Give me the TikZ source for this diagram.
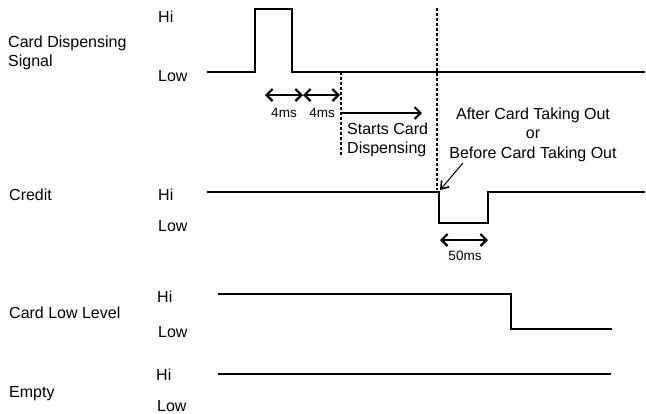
\documentclass[tikz,border=0pt]{standalone}
\usepackage{fontspec}
\setmainfont{Liberation Sans}
\usetikzlibrary{arrows.meta}
\begin{document}
\begin{tikzpicture}[x=1pt,y=-1pt,
  lbl/.style={anchor=base west,inner sep=0pt,font=\fontsize{16}{19}\selectfont},
  clbl/.style={anchor=base,inner sep=0pt,font=\fontsize{16}{19}\selectfont},
  small/.style={anchor=base,inner sep=0pt,font=\fontsize{13.5}{16}\selectfont},
  wave/.style={line width=1.8pt,line join=miter},
  dimarr/.style={line width=1.2pt,{Straight Barb[length=6pt,width=12pt,line width=2.2pt]}-{Straight Barb[length=6pt,width=12pt,line width=2.2pt]}},
  onearr/.style={line width=1.2pt,-{Straight Barb[length=6pt,width=12pt,line width=2pt]}},
  thinarr/.style={line width=1pt,-{Straight Barb[length=7pt,width=10pt,line width=1.6pt]}},
  dashline/.style={line width=1.4pt,dash pattern=on 3pt off 2pt}]
\useasboundingbox (0,0) rectangle (646,413);
% labels
\node[lbl] (l1a) at (8,47) {Card Dispensing};
\node[lbl] (l1b) at (8,66) {Signal};
\node[lbl] (h1) at (158,22) {Hi};
\node[lbl] (lo1) at (158,81) {Low};
\node[lbl] (l2) at (9,200) {Credit};
\node[lbl] (h2) at (158,200) {Hi};
\node[lbl] (lo2) at (158,231) {Low};
\node[lbl] (l3) at (9,318) {Card Low Level};
\node[lbl] (h3) at (157,302) {Hi};
\node[lbl] (lo3) at (158,337) {Low};
\node[lbl] (l4) at (9,397) {Empty};
\node[lbl] (h4) at (156,380) {Hi};
\node[lbl] (lo4) at (157,411) {Low};
% waveforms
\draw[wave] (207,72) -- (255,72) -- (255,9) -- (292,9) -- (292,72) -- (645,72);
\draw[wave] (207,192) -- (439,192) -- (439,223) -- (488,223) -- (488,192) -- (645,192);
\draw[wave] (218,294) -- (511,294) -- (511,329) -- (612,329);
\draw[wave] (218,374) -- (611,374);
% dashed markers
\coordinate (d1t) at (341,72);
\coordinate (d1b) at (341,157);
\draw[dashline] (d1t) -- (d1b);
\coordinate (d2t) at (437,8);
\coordinate (d2b) at (437,190);
\draw[dashline] (d2t) -- (d2b);
% 4ms arrows
\coordinate (a0) at (265,95);
\coordinate (a1) at (303,95);
\coordinate (a2) at (340,95);
\draw[dimarr] (a0) -- (a1);
\draw[dimarr] (a1) -- (a2);
\node[small] (t4a) at (284,117) {4ms};
\node[small] (t4b) at (322,117) {4ms};
% starts arrow
\coordinate (sa0) at (341,113);
\coordinate (sa1) at (422,113);
\draw[onearr] (sa0) -- (sa1);
\node[lbl] (st1) at (347,134) {Starts Card};
\node[lbl] (st2) at (347,153) {Dispensing};
% annotation
\node[clbl] (an1) at (533,119) {After Card Taking Out};
\node[clbl] (an2) at (533,138) {or};
\node[clbl] (an3) at (533,158) {Before Card Taking Out};
\coordinate (p0) at (463,163);
\coordinate (p1) at (440,190);
\draw[thinarr] (p0) -- (p1);
% 50ms
\coordinate (b0) at (440,240);
\coordinate (b1) at (488,240);
\draw[dimarr] (b0) -- (b1);
\node[small] (t50) at (465,260) {50ms};
\end{tikzpicture}
\end{document}
